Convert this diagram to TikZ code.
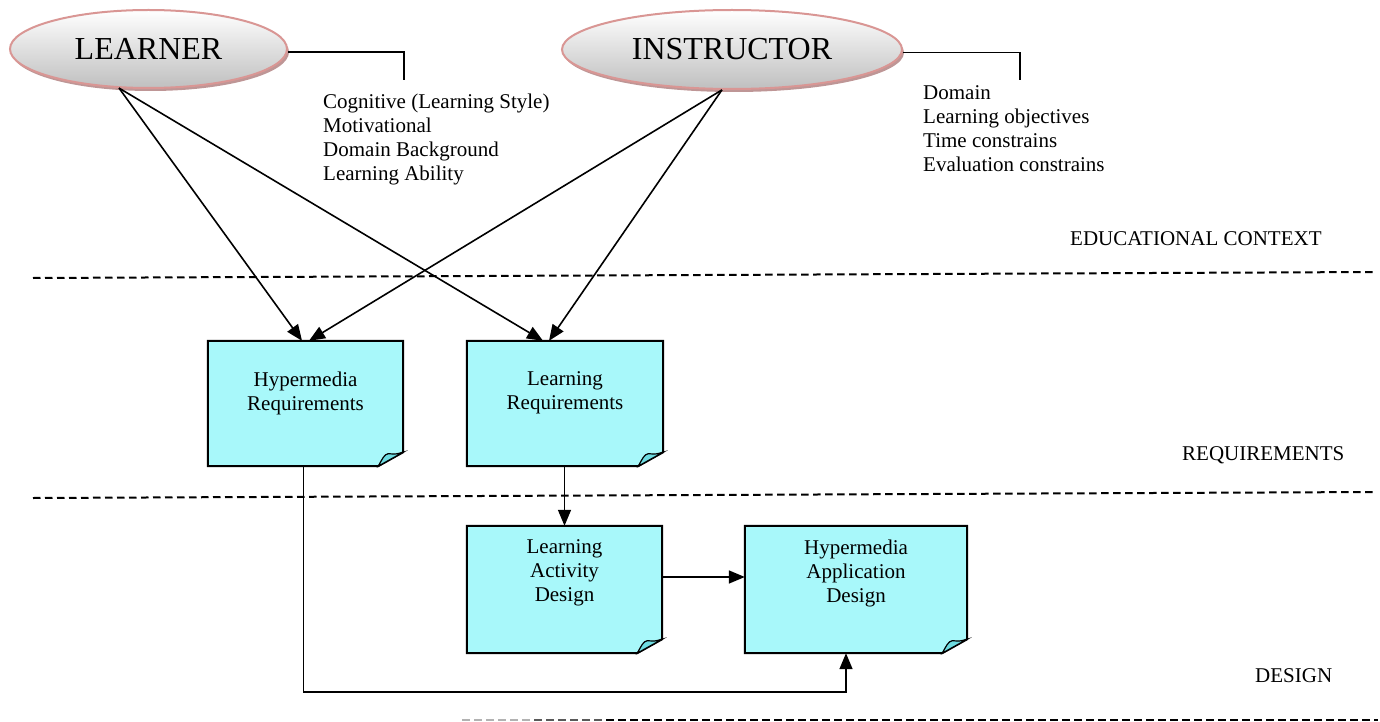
\documentclass[tikz,border=0pt]{standalone}
\usepackage{fontspec}
\setmainfont{Liberation Serif}
\usetikzlibrary{shapes.geometric,shadows,arrows.meta,calc}
\definecolor{boxfill}{RGB}{168,248,250}
\definecolor{foldfill}{RGB}{110,220,225}
\definecolor{ellborder}{RGB}{217,150,148}
\definecolor{ellshadow}{RGB}{190,150,150}
\begin{document}
\begin{tikzpicture}[x=1pt,y=-1pt,
  actor/.style={ellipse, draw=ellborder, line width=2pt, top color=white, bottom color=black!25,
    inner sep=0pt, font=\fontsize{32}{36}\selectfont,
    drop shadow={shadow xshift=2pt, shadow yshift=-3pt, fill=ellshadow, opacity=1}},
  note/.style={inner sep=0pt, draw=none},
  notetext/.style={anchor=north, align=center, inner sep=0pt, font=\fontsize{21}{24}\selectfont},
  attr/.style={anchor=north west, align=left, inner sep=0pt, font=\fontsize{21}{24}\selectfont},
  layer/.style={anchor=base west, inner sep=0pt, font=\fontsize{21}{24}\selectfont},
  sep/.style={line width=2pt, dash pattern=on 7.5pt off 4.5pt},
  link/.style={line width=1.6pt},
  flow/.style={line width=1.6pt, -{Triangle[length=16pt,width=13pt]}},
]
\useasboundingbox (0,0) rectangle (1380,722);

% actors
\node[actor, minimum width=277pt, minimum height=78pt] (L) at (148.5,49) {LEARNER};
\node[actor, minimum width=340pt, minimum height=79pt] (I) at (732,49.5) {INSTRUCTOR};

% attribute lists
\coordinate (Lend) at (404,80);
\coordinate (Iend) at (1020,80);
\draw[link] ([yshift=-3pt]L.east) -| (Lend);
\draw[link] ([yshift=-3pt]I.east) -| (Iend);
\node[attr] (Lattr) at (323,93.5) {Cognitive (Learning Style)\\Motivational\\Domain Background\\Learning Ability};
\node[attr] (Iattr) at (923,85) {Domain\\Learning objectives\\Time constrains\\Evaluation constrains};

% layer labels and separators
\node[layer] (ctx) at (1070,245) {EDUCATIONAL CONTEXT};
\node[layer] (req) at (1182,460) {REQUIREMENTS};
\node[layer] (des) at (1255,682) {DESIGN};
\draw[sep] (33,278) -- (1376,272);
\draw[sep] (33,498) -- (1376,492);
\draw[sep, black!30] (462,720) -- (534,720);
\draw[sep, black!65] (534,720) -- (606,720);
\draw[sep] (606,720) -- (1378,720);

% note boxes
\node[note, minimum width=195pt, minimum height=125pt] (HR) at (305.5,403.5) {};
\node[note, minimum width=196pt, minimum height=125pt] (LR) at (565,403.5) {};
\node[note, minimum width=195pt, minimum height=127pt] (LAD) at (564.5,589.5) {};
\node[note, minimum width=222pt, minimum height=127pt] (HAD) at (856,589.5) {};
\foreach \n in {HR,LR,LAD,HAD}{
  \draw[line width=2pt, fill=boxfill] (\n.north west) -- (\n.north east) -- ([yshift=14pt]\n.south east)
     -- ([xshift=-25pt]\n.south east) -- (\n.south west) -- cycle;
  \draw[line width=1.2pt, fill=foldfill] ([xshift=-25pt]\n.south east)
     .. controls ([xshift=-21pt,yshift=7pt]\n.south east) and ([xshift=-19pt,yshift=12pt]\n.south east) .. ([xshift=-15pt,yshift=12.5pt]\n.south east)
     .. controls ([xshift=-7pt,yshift=12pt]\n.south east) .. ([yshift=14pt]\n.south east) -- cycle;
}
\node[notetext] (HRt) at ([yshift=-31pt]HR.north) {Hypermedia\\Requirements};
\node[notetext] (LRt) at ([yshift=-31pt]LR.north) {Learning\\Requirements};
\node[notetext] (LADt) at ([yshift=-14pt]LAD.north) {Learning\\Activity\\Design};
\node[notetext] (HADt) at ([yshift=-14pt]HAD.north) {Hypermedia\\Application\\Design};

% connectors
\draw[flow] (L.233) -- ([xshift=-3.5pt]HR.north);
\draw[flow] (I.256) -- ([xshift=3.5pt]HR.north);
\draw[flow] (L.233) -- ([xshift=-22pt]LR.north);
\draw[flow] (I.256) -- ([xshift=-16pt]LR.north);
\draw[flow] (LAD.north |- LR.south) -- (LAD.north);
\draw[flow] ([yshift=12.5pt]LAD.east) -- ([yshift=12.5pt]HAD.west);
\draw[flow] ([xshift=-2pt]HR.south) -- ++(0,226) -| ([xshift=-10pt]HAD.south);
\end{tikzpicture}
\end{document}
